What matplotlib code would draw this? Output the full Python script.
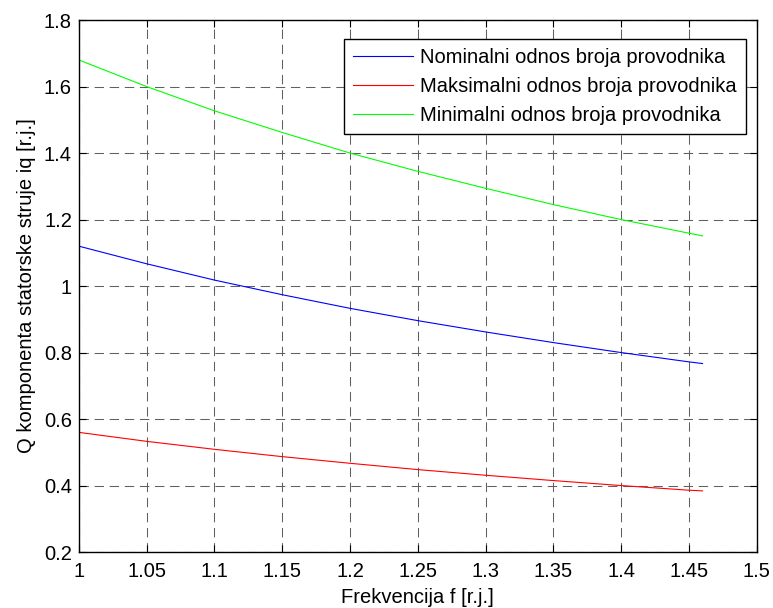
import matplotlib
matplotlib.use('Agg')
import matplotlib.pyplot as plt

# vrijednosti ocitane sa slike
frekvencija = [1.00, 1.05, 1.10, 1.15, 1.20, 1.25, 1.30, 1.35, 1.40, 1.45, 1.46]
iq_nominalni = [1.120, 1.067, 1.018, 0.974, 0.933, 0.896, 0.862, 0.830, 0.800, 0.772, 0.767]
iq_maksimalni = [0.560, 0.533, 0.509, 0.487, 0.467, 0.448, 0.431, 0.415, 0.400, 0.386, 0.384]
iq_minimalni = [1.680, 1.600, 1.527, 1.462, 1.400, 1.345, 1.294, 1.245, 1.200, 1.159, 1.151]

labele = ['Nominalni odnos broja provodnika',
          'Maksimalni odnos broja provodnika',
          'Minimalni odnos broja provodnika']
x_ticks = [1, 1.05, 1.1, 1.15, 1.2, 1.25, 1.3, 1.35, 1.4, 1.45, 1.5]
y_ticks = [0.2, 0.4, 0.6, 0.8, 1, 1.2, 1.4, 1.6, 1.8]

plt.rcParams['font.family'] = ['Liberation Sans', 'DejaVu Sans']
plt.rcParams['font.size'] = 14.5

fig = plt.figure(figsize=(7.73, 6.08), dpi=100)
ax = fig.add_axes([0.102, 0.092, 0.877, 0.875])

ax.plot(frekvencija, iq_nominalni, color='#0000ff', lw=0.8, label=labele[0])
ax.plot(frekvencija, iq_maksimalni, color='#ff0000', lw=0.8, label=labele[1])
ax.plot(frekvencija, iq_minimalni, color='#00ff00', lw=0.8, label=labele[2])

ax.set_xlim(1, 1.5)
ax.set_ylim(0.2, 1.8)
ax.set_xticks(x_ticks)
ax.set_xticklabels([f'{t:g}' for t in x_ticks])
ax.set_yticks(y_ticks)
ax.set_yticklabels([f'{t:g}' for t in y_ticks])
ax.tick_params(direction='in', top=True, right=True, length=5, width=0.8, labelsize=14.5)
ax.tick_params(axis='x', pad=7)
ax.tick_params(axis='y', pad=5)
# MATLAB-ov isprekidani grid
ax.grid(True, linestyle=(0, (9, 5.5)), color='#606060', lw=0.75)
for s in ax.spines.values():
    s.set_linewidth(1.0)

ax.set_xlabel('Frekvencija f [r.j.]', fontsize=14.5, labelpad=5)
ax.set_ylabel('Q komponenta statorske struje iq [r.j.]', fontsize=14.5, labelpad=6)

leg = ax.legend(loc='upper right', bbox_to_anchor=(0.984, 0.964), borderaxespad=0,
                fancybox=False, edgecolor='black', framealpha=1,
                fontsize=14.5, handlelength=3.0, handletextpad=0.35, labelspacing=0.5,
                borderpad=0.45)
leg.get_frame().set_linewidth(1.0)

fig.savefig('out.png', dpi=100)
